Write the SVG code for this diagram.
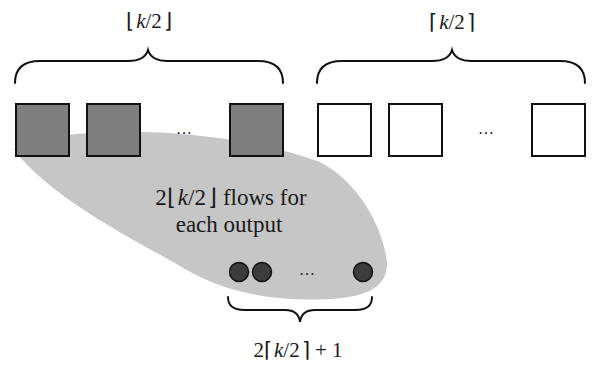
<svg xmlns="http://www.w3.org/2000/svg" width="599" height="369" viewBox="0 0 599 369">
  <style>
    .brace { fill: none; stroke: #111; stroke-width: 2; stroke-linecap: round; }
    .sq-dark { fill: #7f7f7f; stroke: #111; stroke-width: 2; }
    .sq-light { fill: #ffffff; stroke: #111; stroke-width: 2; }
    .dot { fill: #3c3c3c; stroke: #111; stroke-width: 1.5; }
    .region { fill: #c6c6c6; }
  </style>

  <!-- shaded region grouping the first half of the inputs with the outputs -->
  <g id="flow-region">
    <path class="region" d="M14,150 C30,138 60,134 110,132 C180,130 260,140 320,162 C355,180 382,222 387,262 C388,285 370,297 330,299 C270,302 220,292 175,263 C115,230 50,195 14,150 Z"/>
  </g>

  <!-- braces -->
  <g id="connectors">
    <path class="brace" d="M15,83 C15,70 22,61 40,61 L128,61 C140,61 146,57 148,50 C150,57 156,61 168,61 L258,61 C276,61 283,70 283,83"/>
    <path class="brace" d="M317,83 C317,70 324,61 342,61 L432,61 C444,61 450,57 452,50 C454,57 460,61 472,61 L560,61 C578,61 585,70 585,83"/>
    <path class="brace" d="M228,297 C228,306 233,310 245,310 L285,310 C294,310 299,314 300,322 C301,314 306,310 315,310 L355,310 C367,310 372,306 372,297"/>
  </g>

  <!-- brace labels -->
  <g id="label-floor">
    <text x="149" y="28" font-family="'Liberation Serif', serif" font-size="21" fill="#1a1a1a" text-anchor="middle">⌊<tspan font-style="italic" dx="2">k</tspan>/2<tspan dx="2">⌋</tspan></text>
  </g>
  <g id="label-ceil">
    <text x="452" y="29" font-family="'Liberation Serif', serif" font-size="21" fill="#1a1a1a" text-anchor="middle">⌈<tspan font-style="italic" dx="2">k</tspan>/2<tspan dx="2">⌉</tspan></text>
  </g>
  <g id="label-outputs">
    <text x="298" y="357" font-family="'Liberation Serif', serif" font-size="21" fill="#1a1a1a" text-anchor="middle">2⌈<tspan font-style="italic" dx="2">k</tspan>/2<tspan dx="2">⌉</tspan> + 1</text>
  </g>

  <!-- first half of the inputs (shaded) -->
  <g id="in-1"><rect class="sq-dark" x="16" y="104" width="53" height="52"/></g>
  <g id="in-2"><rect class="sq-dark" x="87" y="104" width="53" height="52"/></g>
  <g id="in-dots-left"><text x="184" y="134" font-family="'Liberation Serif', serif" font-size="16" fill="#1a1a1a" text-anchor="middle">…</text></g>
  <g id="in-3"><rect class="sq-dark" x="230" y="104" width="53" height="52"/></g>

  <!-- second half of the inputs -->
  <g id="in-4"><rect class="sq-light" x="318" y="104" width="53" height="52"/></g>
  <g id="in-5"><rect class="sq-light" x="389" y="104" width="53" height="52"/></g>
  <g id="in-dots-right"><text x="486" y="134" font-family="'Liberation Serif', serif" font-size="16" fill="#1a1a1a" text-anchor="middle">…</text></g>
  <g id="in-6"><rect class="sq-light" x="532" y="104" width="53" height="52"/></g>

  <!-- region caption -->
  <g id="caption">
    <text x="231" y="205" font-family="'Liberation Serif', serif" font-size="23" fill="#1a1a1a" text-anchor="middle">2⌊<tspan font-style="italic" dx="2">k</tspan>/2<tspan dx="2">⌋</tspan><tspan dx="6">flows for</tspan></text>
    <text x="229" y="232" font-family="'Liberation Serif', serif" font-size="23" fill="#1a1a1a" text-anchor="middle">each output</text>
  </g>

  <!-- outputs -->
  <g id="out-1"><circle class="dot" cx="239" cy="272" r="9.5"/></g>
  <g id="out-2"><circle class="dot" cx="262" cy="272" r="9.5"/></g>
  <g id="out-dots"><text x="307" y="275" font-family="'Liberation Serif', serif" font-size="16" fill="#1a1a1a" text-anchor="middle">…</text></g>
  <g id="out-3"><circle class="dot" cx="363" cy="272" r="9.5"/></g>
</svg>
